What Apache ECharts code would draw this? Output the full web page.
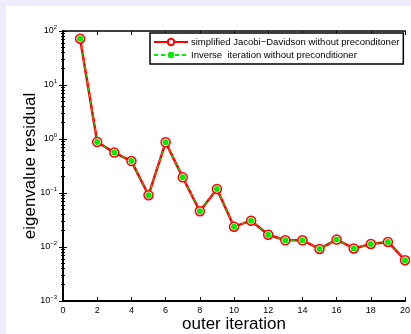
<!DOCTYPE html>
<html>
<head>
<meta charset="utf-8">
<script src="https://cdn.jsdelivr.net/npm/echarts@6/dist/echarts.min.js"></script>
<style>
  html, body { margin: 0; padding: 0; background: #ececfa; }
  #main { position: absolute; left: 6px; top: 6px; width: 405px; height: 328px; background: #fff; }
</style>
</head>
<body>
<div id="main"></div>
<script>
// outer iterations and eigenvalue residuals
const iterations = [1, 2, 3, 4, 5, 6, 7, 8, 9, 10, 11, 12, 13, 14, 15, 16, 17, 18, 19, 20]
const jacobiDavidson = [72, 0.88, 0.56, 0.39, 0.091, 0.87, 0.195, 0.046, 0.119, 0.0238,
  0.0307, 0.0169, 0.0133, 0.0133, 0.0092, 0.0137, 0.0094, 0.0114, 0.0124, 0.0057]
const inverseIteration = [72, 0.88, 0.56, 0.39, 0.091, 0.87, 0.195, 0.046, 0.119, 0.0238,
  0.0307, 0.0169, 0.0133, 0.0133, 0.0092, 0.0137, 0.0094, 0.0114, 0.0124, 0.0057]
const seriesNames = ['simplified Jacobi\u2212Davidson without preconditoner', 'Inverse  iteration without preconditioner']
const xTicks = [0, 2, 4, 6, 8, 10, 12, 14, 16, 18, 20]
const yTicks = [0.001, 0.01, 0.1, 1, 10, 100]

const font = 'Liberation Sans'
const chart = echarts.init(document.getElementById('main'))

const pair = (ys) => iterations.map((x, i) => [x, ys[i]])

const expLabel = (v) => {
  const e = Math.round(Math.log10(v))
  return '{b|10}{s|' + (e < 0 ? '\u2212' + (-e) : e) + '}'
}

const xBase = (pos, w) => ({
  type: 'value',
  position: pos,
  min: xTicks[0],
  max: xTicks[xTicks.length - 1],
  interval: xTicks[1] - xTicks[0],
  splitLine: { show: false },
  axisLine: { lineStyle: { color: '#000', width: w } },
  axisTick: { inside: true, length: 4, lineStyle: { color: '#000', width: 1 } }
})

const yBase = (pos, w) => ({
  type: 'log',
  logBase: 10,
  position: pos,
  min: yTicks[0],
  max: yTicks[yTicks.length - 1],
  splitLine: { show: false },
  axisLine: { lineStyle: { color: '#000', width: w } },
  axisTick: { inside: true, length: 4, lineStyle: { color: '#000', width: 1 } },
  minorTick: { show: true, splitNumber: 9, length: 2, lineStyle: { color: '#000', width: 1 } }
})

chart.setOption({
  animation: false,
  textStyle: { fontFamily: font },
  grid: { left: 57, right: 6, top: 25, bottom: 33, outerBoundsMode: 'none' },
  legend: {
    left: 144,
    top: 27,
    orient: 'vertical',
    itemGap: 3,
    itemWidth: 34,
    itemHeight: 8,
    padding: [4, 4, 4, 3],
    backgroundColor: '#fff',
    borderColor: '#000',
    borderWidth: 1.5,
    borderRadius: 0,
    textStyle: { fontSize: 9.5, color: '#000', fontFamily: font, padding: [0, 0, 0, -2] },
    data: seriesNames
  },
  xAxis: [
    Object.assign(xBase('bottom', 2), {
      name: 'outer iteration',
      nameLocation: 'middle',
      nameGap: 15,
      nameMoveOverlap: false,
      nameTextStyle: { fontSize: 17, color: '#000', fontFamily: font },
      axisLabel: { fontSize: 9, color: '#000', margin: 5 }
    }),
    Object.assign(xBase('top', 1.5), { axisLabel: { show: false } })
  ],
  yAxis: [
    Object.assign(yBase('left', 2), {
      name: 'eigenvalue residual',
      nameLocation: 'middle',
      nameGap: 24,
      nameMoveOverlap: false,
      nameTextStyle: { fontSize: 17, color: '#000', fontFamily: font },
      axisLabel: {
        color: '#000',
        margin: 6,
        formatter: expLabel,
        rich: {
          b: { fontSize: 9, color: '#000', fontFamily: font },
          s: { fontSize: 6, color: '#000', fontFamily: font, padding: [0, 0, 7, 0] }
        }
      }
    }),
    Object.assign(yBase('right', 1.5), { axisLabel: { show: false } })
  ],
  series: [
    {
      name: seriesNames[0],
      type: 'line',
      xAxisIndex: 0,
      yAxisIndex: 0,
      data: pair(jacobiDavidson),
      symbol: 'circle',
      symbolSize: 9,
      lineStyle: { color: '#ff0000', width: 2.5 },
      itemStyle: { color: '#ffffff', borderColor: '#ff0000', borderWidth: 1.5 }
    },
    {
      name: seriesNames[1],
      type: 'line',
      xAxisIndex: 0,
      yAxisIndex: 0,
      data: pair(inverseIteration),
      symbol: 'circle',
      symbolSize: 6,
      lineStyle: { color: '#00ee00', width: 1, type: [4, 3] },
      itemStyle: { color: '#00ee00', borderWidth: 0 }
    }
  ]
})
</script>
</body>
</html>
